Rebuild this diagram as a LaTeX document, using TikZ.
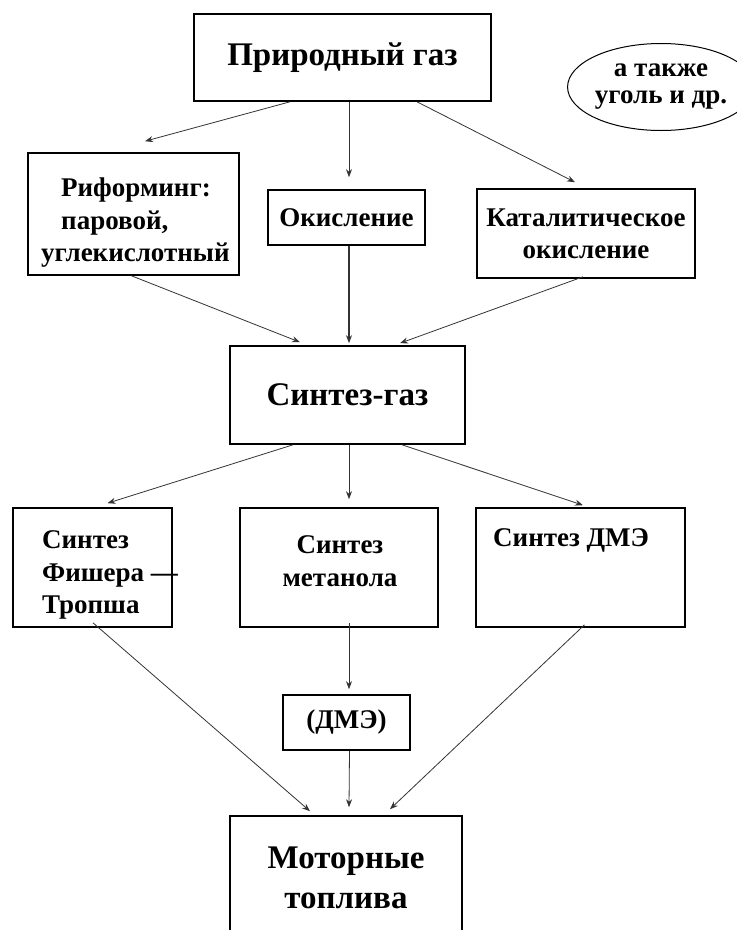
\documentclass[tikz,border=0pt]{standalone}
\usepackage{fontspec}
\setmainfont{Liberation Serif}
\usetikzlibrary{arrows.meta,shapes.geometric}

\begin{document}
\begin{tikzpicture}[x=1pt, y=-1pt,
  box/.style={draw, line width=1.6pt, inner sep=0pt, align=center, font=\bfseries\fontsize{27}{32}\selectfont},
  bigbox/.style={box, font=\bfseries\fontsize{33}{40}\selectfont},
  lbl/.style={inner sep=0pt, align=left, font=\bfseries\fontsize{27}{32.5}\selectfont},
  arr/.style={draw=black!80, line width=0.8pt, -{Stealth[length=8pt,width=6pt]}}
]
\path[use as bounding box, clip] (0,0) rectangle (737,930);
\node[bigbox, minimum width=297pt, minimum height=87pt] (gas) at (342.5,57.5) {Природный газ};
\node[draw, ellipse, line width=1pt, inner sep=0pt, minimum width=150pt, minimum height=87pt, align=center, font=\bfseries\fontsize{27}{27}\selectfont] (coal) at (661,87) {а также\\уголь и др.};
\node[box, minimum width=211pt, minimum height=122pt] (reform) at (133.5,214) {};
\node[lbl, anchor=west] (reformtext) at (41,223) {\hspace*{20pt}Риформинг:\\\hspace*{20pt}паровой,\\углекислотный};
\node[box, minimum width=157pt, minimum height=55pt] (oxid) at (346.5,217.5) {Окисление};
\node[box, minimum width=218pt, minimum height=89pt] (catox) at (586,233.5) {Каталитическое\\окисление};
\node[bigbox, minimum width=235pt, minimum height=98pt] (syngas) at (347.5,395) {Синтез-газ};
\node[box, minimum width=159pt, minimum height=119pt] (ft) at (92.5,567.5) {};
\node[lbl, anchor=west] (fttext) at (42,575) {Синтез\\Фишера —\\Тропша};
\node[box, minimum width=198pt, minimum height=119pt] (meth) at (339,567.5) {};
\node[lbl, align=center] (methtext) at (340,561) {Синтез\\метанола};
\node[box, minimum width=209pt, minimum height=119pt] (dme) at (580.5,567.5) {};
\node[lbl, anchor=west] (dmetext) at (493,540) {Синтез ДМЭ};
\node[box, minimum width=127pt, minimum height=55pt] (dmep) at (346.5,722.5) {(ДМЭ)};
\node[bigbox, minimum width=232pt, minimum height=124pt] (fuel) at (346,878) {Моторные\\топлива};
\draw[arr] ([xshift=-52.5pt]gas.south) -- ([xshift=11.5pt,yshift=11pt]reform.north);
\draw[arr] ([xshift=6.5pt]gas.south) -- ([xshift=2.5pt,yshift=12pt]oxid.north);
\draw[arr] ([xshift=74.5pt]gas.south) -- ([xshift=-11pt,yshift=6pt]catox.north);
\draw[arr] ([xshift=-2pt]reform.south) -- ([xshift=-47.5pt,yshift=3pt]syngas.north);
\draw[arr, line width=1.4pt] ([xshift=2.5pt]oxid.south) -- ([xshift=1.5pt,yshift=2pt]syngas.north);
\draw[arr] ([xshift=-3pt,yshift=2pt]catox.south) -- ([xshift=52.5pt,yshift=2pt]syngas.north);
\draw[arr] ([xshift=-54.5pt]syngas.south) -- ([xshift=15pt,yshift=4pt]ft.north);
\draw[arr] ([xshift=1.5pt]syngas.south) -- ([xshift=10pt,yshift=8pt]meth.north);
\draw[arr] ([xshift=54.5pt]syngas.south) -- ([xshift=2.5pt,yshift=2pt]dme.north);
\draw[arr] ([xshift=10pt,yshift=5pt]meth.south) -- ([xshift=2.5pt,yshift=5pt]dmep.north);
\draw[arr] ([xshift=3pt]dmep.south) -- ([xshift=3pt,yshift=8pt]fuel.north);
\draw[arr] ([xshift=0.5pt,yshift=5pt]ft.south) -- ([xshift=-36pt,yshift=4pt]fuel.north);
\draw[arr] ([xshift=4pt,yshift=3pt]dme.south) -- ([xshift=44pt,yshift=6pt]fuel.north);
\end{tikzpicture}
\end{document}
